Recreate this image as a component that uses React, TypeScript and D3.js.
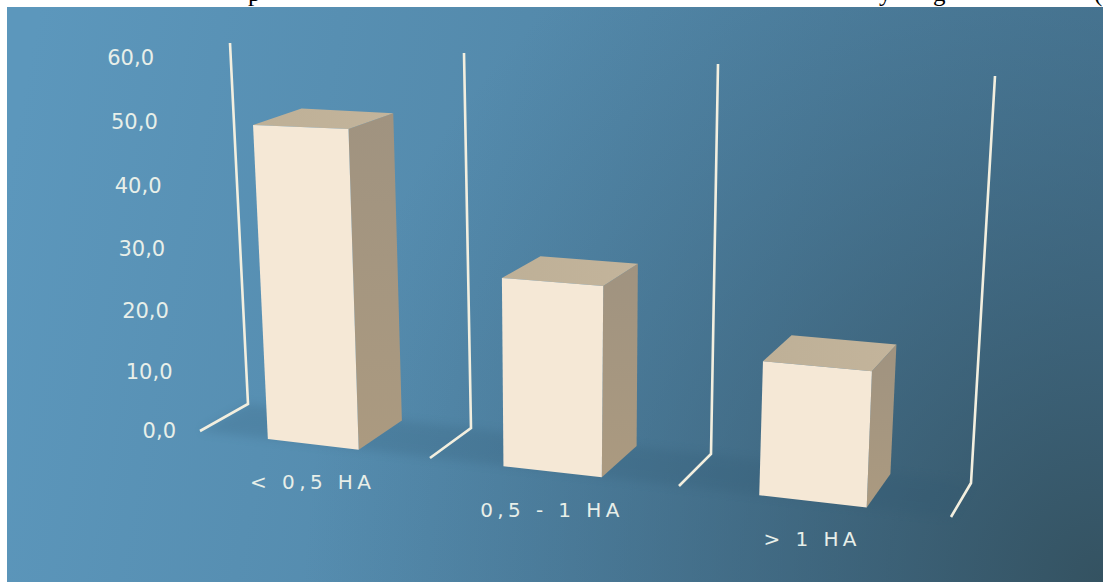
import React from "react";
import * as d3 from "d3";

// Data
const categories = ["< 0,5 HA", "0,5 - 1 HA", "> 1 HA"];
const values = [50, 29, 20];
const tickValues = [0, 10, 20, 30, 40, 50, 60];
const tickLabels = ["0,0", "10,0", "20,0", "30,0", "40,0", "50,0", "60,0"];
const headingFragments = [
  { text: "p", at: 248 },
  { text: "y", at: 879 },
  { text: "g", at: 933 },
  { text: "(", at: 1094 },
];

// Layout of the 3D box: the four wall positions seen at the front and back of the floor and at the axis maximum
const W = 1103;
const H = 582;
const wallIndex = [0, 1, 2, 3];
const frontFloorX = [200, 430, 679, 951];
const frontFloorY = [431, 458, 486, 517];
const backFloorX = [248, 471, 711, 971];
const backFloorY = [404, 428, 454, 483];
const frontTopX = [178, 422, 687, 971];
const frontTopY = [58, 65, 76, 89];
const backTopX = [230, 464, 718, 995];
const backTopY = [43, 53, 64, 76];
const barStart = 0.295;
const barEnd = 0.69;

const line = (r: number[]) => d3.scaleLinear().domain(wallIndex).range(r);
const fx = line(frontFloorX), fy = line(frontFloorY);
const bx = line(backFloorX), by = line(backFloorY);
const tfx = line(frontTopX), tfy = line(frontTopY);
const tbx = line(backTopX), tby = line(backTopY);
// Slight perspective growth towards the top of the value axis
const heightFraction = d3.scalePow().exponent(1.03).domain([0, 60]).range([0, 1]);

function project(c: number, depth: number, v: number): [number, number] {
  const t = heightFraction(v);
  const x0 = d3.interpolateNumber(fx(c), bx(c))(depth);
  const y0 = d3.interpolateNumber(fy(c), by(c))(depth);
  const x1 = d3.interpolateNumber(tfx(c), tbx(c))(depth);
  const y1 = d3.interpolateNumber(tfy(c), tby(c))(depth);
  return [x0 + (x1 - x0) * t, y0 + (y1 - y0) * t];
}

const poly = (pts: [number, number][]) => d3.line()(pts)! + "Z";

export default function App() {
  const floorPts: [number, number][] = [
    project(0, 0, 0),
    project(0, 1, 0),
    project(3, 1, 0),
    project(3, 0, 0),
  ];
  return (
    <svg
      width={W}
      height={H}
      viewBox={`0 0 ${W} ${H}`}
      style={{ position: "fixed", left: 0, top: 0, display: "block", background: "#fff" }}
    >
      <defs>
        <linearGradient id="bg" gradientUnits="userSpaceOnUse" x1={40} y1={0} x2={1100} y2={200}>
          <stop offset="0" stopColor="#5c97bc" />
          <stop offset="1" stopColor="#4a7a98" />
        </linearGradient>
        <radialGradient id="shade" gradientUnits="userSpaceOnUse" cx={1103} cy={582} r={800}>
          <stop offset="0" stopColor="#33505e" stopOpacity={0.95} />
          <stop offset="0.45" stopColor="#35566a" stopOpacity={0.5} />
          <stop offset="1" stopColor="#3a6480" stopOpacity={0} />
        </radialGradient>
        <linearGradient id="side" x1="0" y1="0" x2="0" y2="1">
          <stop offset="0" stopColor="#a09380" />
          <stop offset="1" stopColor="#ab9a80" />
        </linearGradient>
        <linearGradient id="top" x1="0" y1="0" x2="1" y2="0">
          <stop offset="0" stopColor="#beb097" />
          <stop offset="1" stopColor="#c3b49b" />
        </linearGradient>
        <filter id="soft" x="-5%" y="-20%" width="110%" height="140%">
          <feGaussianBlur stdDeviation="5" />
        </filter>
        <filter id="crisp" x="-5%" y="-5%" width="110%" height="110%">
          <feGaussianBlur stdDeviation="0.4" />
        </filter>
      </defs>

      {headingFragments.map((f) => (
        <text key={f.at} x={f.at} y={1} fontFamily="'Liberation Serif', serif" fontSize={25} fill="#000">
          {f.text}
        </text>
      ))}

      <rect x={7} y={7} width={W - 7} height={H - 7} fill="url(#bg)" />
      <rect x={7} y={7} width={W - 7} height={H - 7} fill="url(#shade)" />

      <path d={poly(floorPts)} fill="#2f566f" opacity={0.2} filter="url(#soft)" />

      <g filter="url(#crisp)">
        {wallIndex.map((i) => {
          const pts = [project(i, 0, 0), project(i, 1, 0), project(i, 1, 60)] as [number, number][];
          return (
            <path key={i} d={d3.line()(pts)!} fill="none" stroke="#f3efdf" strokeWidth={2.6} strokeLinejoin="miter" />
          );
        })}

        {values.map((v, i) => {
          const a = i + barStart;
          const b = i + barEnd;
          return (
            <g key={categories[i]}>
              <path
                d={poly([project(b, 0, 0), project(b, 1, 0), project(b, 1, v), project(b, 0, v)])}
                fill="url(#side)"
              />
              <path
                d={poly([project(a, 0, v), project(a, 1, v), project(b, 1, v), project(b, 0, v)])}
                fill="url(#top)"
              />
              <path
                d={poly([project(a, 0, 0), project(b, 0, 0), project(b, 0, v), project(a, 0, v)])}
                fill="#f5e8d6"
              />
            </g>
          );
        })}
      </g>

      {tickValues.map((t, i) => {
        const [x, y] = project(0, 0, t);
        return (
          <text
            key={t}
            x={x - 24}
            y={y}
            dy="0.35em"
            textAnchor="end"
            fontFamily="'DejaVu Sans', sans-serif"
            fontSize={21}
            fill="#e8efe9"
          >
            {tickLabels[i]}
          </text>
        );
      })}

      {categories.map((c, i) => {
        const [x, y] = project(i + 0.49, 0, 0);
        return (
          <text
            key={c}
            x={x}
            y={y + 38}
            dy="0.35em"
            textAnchor="middle"
            fontFamily="'DejaVu Sans', sans-serif"
            fontSize={20}
            letterSpacing={4.4}
            fill="#e8efe9"
          >
            {c}
          </text>
        );
      })}
    </svg>
  );
}
